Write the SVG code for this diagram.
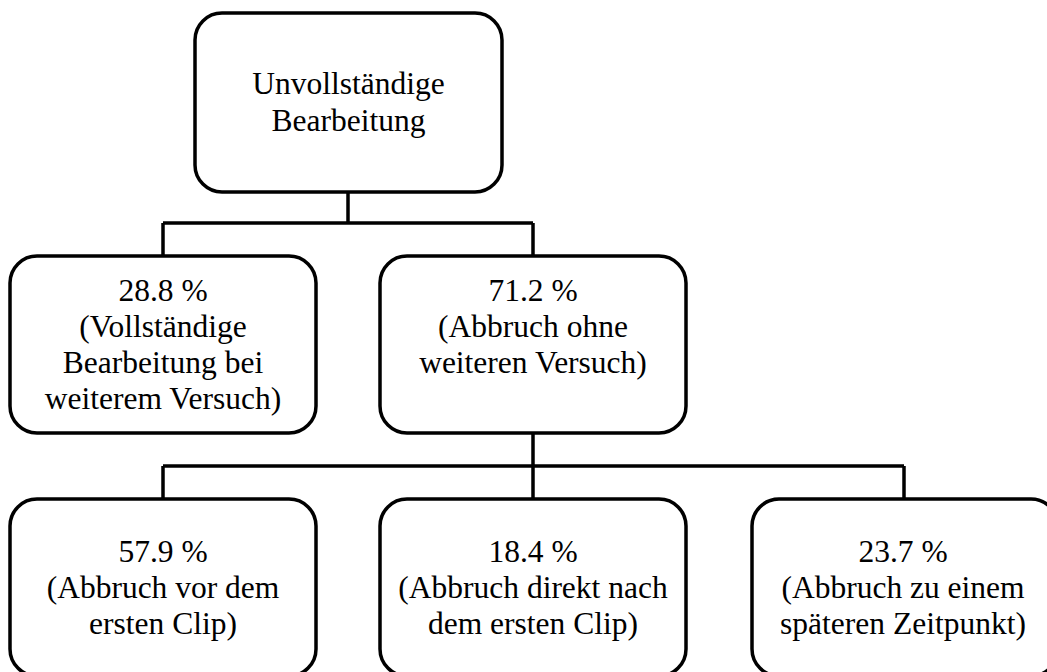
<svg xmlns="http://www.w3.org/2000/svg" width="1047" height="672" viewBox="0 0 1047 672">
<style>
.box{fill:#fff;stroke:#000;stroke-width:3.5}
.ln{fill:none;stroke:#000;stroke-width:3.5}
text{font-family:"Liberation Serif","Times New Roman",serif;font-size:31.5px;fill:#000;text-anchor:middle}
</style>
<rect width="1047" height="672" fill="#fff"/>
<g id="connectors">
<path class="ln" d="M348 192 V223 M163 223 H533 M163 223 V256 M533 223 V256"/>
<path class="ln" d="M533 433 V466 M163 466 H904 M163 466 V499 M533 466 V499 M904 466 V499"/>
</g>
<g id="n0"><rect class="box" x="195" y="13" width="307" height="179" rx="27"/>
<text x="348.5" y="94">Unvollständige</text><text x="348.5" y="131">Bearbeitung</text></g>
<g id="n1"><rect class="box" x="10" y="256" width="306" height="177" rx="27"/>
<text x="163" y="301">28.8 %</text><text x="163" y="337">(Vollständige</text><text x="163" y="373">Bearbeitung bei</text><text x="163" y="409">weiterem Versuch)</text></g>
<g id="n2"><rect class="box" x="380" y="256" width="306" height="177" rx="27"/>
<text x="533" y="301">71.2 %</text><text x="533" y="337">(Abbruch ohne</text><text x="533" y="373">weiteren Versuch)</text></g>
<g id="n3"><rect class="box" x="10" y="499" width="306" height="177" rx="27"/>
<text x="163" y="562">57.9 %</text><text x="163" y="598">(Abbruch vor dem</text><text x="163" y="634">ersten Clip)</text></g>
<g id="n4"><rect class="box" x="380" y="499" width="306" height="177" rx="27"/>
<text x="533" y="562">18.4 %</text><text x="533" y="598">(Abbruch direkt nach</text><text x="533" y="634">dem ersten Clip)</text></g>
<g id="n5"><rect class="box" x="752" y="499" width="306" height="177" rx="27"/>
<text x="903" y="562">23.7 %</text><text x="903" y="598">(Abbruch zu einem</text><text x="903" y="634">späteren Zeitpunkt)</text></g>
</svg>
